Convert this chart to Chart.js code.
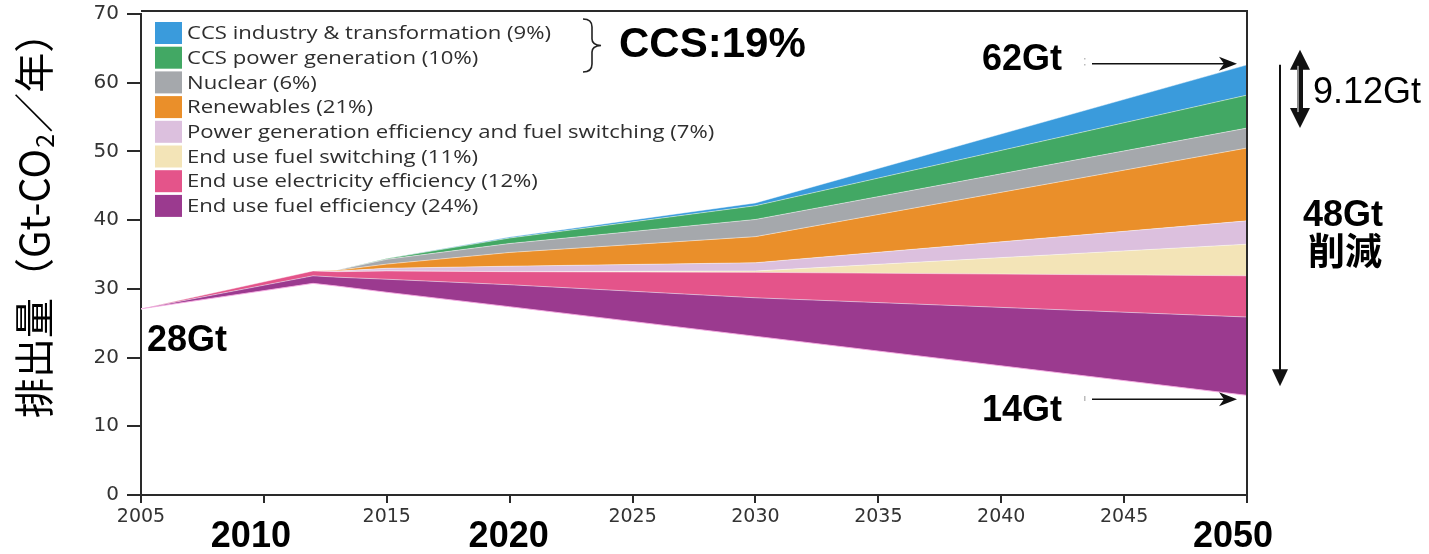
<!DOCTYPE html>
<html>
<head>
<meta charset="utf-8">
<script src="https://cdn.jsdelivr.net/npm/chart.js@4.4.1/dist/chart.umd.min.js"></script>
<style>
  html, body { margin: 0; padding: 0; background: #fff; }
  canvas { display: block; }
</style>
</head>
<body>
<canvas id="emissionChart" width="1429" height="554"></canvas>
<script>
// Scenario years (x) and emissions in Gt-CO2 per year
const years = [2005, 2012, 2013, 2015, 2020, 2030, 2050];

// Emissions left after all measures (bottom, unfilled)
const remaining   = [27.1, 30.8, 30.4, 29.5, 27.4, 23.1, 14.5];

// Reduction wedges, stacked from the bottom up
const fuelEff     = [0, 1.1, 1.3, 1.9, 3.2, 5.6, 11.4];
const elecEff     = [0, 0.7, 0.8, 1.2, 1.9, 3.7, 6.0];
const fuelSwitch  = [0, 0, 0, 0, 0, 0.2, 4.6];
const powerEff    = [0, 0, 0.1, 0.4, 0.8, 1.2, 3.4];
const renewables  = [0, 0, 0.1, 0.6, 2.0, 3.8, 10.6];
const nuclear     = [0, 0, 0.05, 0.7, 1.3, 2.5, 2.9];
const ccsPower    = [0, 0, 0, 0.1, 0.8, 2.0, 4.8];
const ccsIndustry = [0, 0, 0, 0, 0.15, 0.4, 4.4];

const wedgeLabels = [
    'End use fuel efficiency (24%)',
    'End use electricity efficiency (12%)',
    'End use fuel switching (11%)',
    'Power generation efficiency and fuel switching (7%)',
    'Renewables (21%)',
    'Nuclear (6%)',
    'CCS power generation (10%)',
    'CCS industry & transformation (9%)'
];
const wedgeData = [fuelEff, elecEff, fuelSwitch, powerEff, renewables, nuclear, ccsPower, ccsIndustry];
const wedgeColors = [
    'rgb(155, 58, 143)',   // purple
    'rgb(228, 84, 138)',   // pink
    'rgb(243, 228, 183)',  // beige
    'rgb(220, 192, 222)',  // lavender
    'rgb(234, 143, 42)',   // orange
    'rgb(165, 168, 172)',  // grey
    'rgb(66, 168, 100)',   // green
    'rgb(58, 155, 220)'    // blue
];

const yTickValues = [0, 10, 20, 30, 40, 50, 60, 70];
const boldYears = ['2010', '2020', '2050'];

const toPoints = arr => arr.map((v, i) => ({ x: years[i], y: v }));
const last = arr => arr[arr.length - 1];

const top2050 = last(remaining) + wedgeData.reduce((s, a) => s + last(a), 0);
const nuclearTop2050 = last(remaining) + wedgeData.slice(0, 6).reduce((s, a) => s + last(a), 0);

function drawText(ctx, s, x, y, font, align, sx) {
    ctx.save();
    ctx.font = font;
    ctx.textAlign = align;
    ctx.textBaseline = 'middle';
    ctx.translate(x, y);
    ctx.scale(sx || 1, 1);
    ctx.fillText(s, 0, 0);
    ctx.restore();
}

function arrowRight(ctx, x1, x2, y) {
    ctx.beginPath();
    ctx.moveTo(x1, y);
    ctx.lineTo(x2 - 10, y);
    ctx.stroke();
    ctx.beginPath();
    ctx.moveTo(x2, y);
    ctx.lineTo(x2 - 18, y - 7);
    ctx.lineTo(x2 - 13, y);
    ctx.lineTo(x2 - 18, y + 7);
    ctx.closePath();
    ctx.fill();
}

// Legend, frame and call-outs drawn over the chart
const annotate = {
    id: 'annotate',
    afterDraw(chart) {
        const { ctx, chartArea: a, scales: { x, y } } = chart;
        ctx.save();

        // top and right frame
        ctx.strokeStyle = '#2a2a2a';
        ctx.lineWidth = 2;
        ctx.beginPath();
        ctx.moveTo(a.left, a.top - 3);
        ctx.lineTo(a.right, a.top - 3);
        ctx.lineTo(a.right, a.bottom);
        ctx.stroke();

        // legend, top entry first
        const legendFont = '18.5px "Open Sans"';
        ctx.font = legendFont;
        const sx = 364 / ctx.measureText(wedgeLabels[7]).width;
        for (let i = 0; i < 8; i++) {
            const k = 7 - i;
            const cy = 33 + i * 24.7;
            ctx.fillStyle = wedgeColors[k];
            ctx.fillRect(155, cy - 11, 27, 22);
            ctx.fillStyle = '#2e2e2e';
            drawText(ctx, wedgeLabels[k], 187, cy + 1, legendFont, 'left', sx);
        }

        // brace grouping the two CCS entries
        ctx.strokeStyle = '#222';
        ctx.lineWidth = 1.6;
        ctx.beginPath();
        ctx.moveTo(583, 19);
        ctx.quadraticCurveTo(592, 19, 592, 27);
        ctx.lineTo(592, 39);
        ctx.quadraticCurveTo(592, 45, 601, 45.5);
        ctx.quadraticCurveTo(592, 46, 592, 52);
        ctx.lineTo(592, 64);
        ctx.quadraticCurveTo(592, 72, 583, 72);
        ctx.stroke();

        ctx.fillStyle = '#000';
        drawText(ctx, 'CCS:19%', 619, 45, 'bold 42px "Liberation Sans"', 'left');

        // y axis title with subscript
        ctx.save();
        ctx.translate(34, 418);
        ctx.rotate(-Math.PI / 2);
        ctx.textBaseline = 'middle';
        ctx.textAlign = 'left';
        ctx.fillStyle = '#000';
        const big = '40px "Noto Sans CJK JP"';
        const small = '25px "Noto Sans CJK JP"';
        let pos = 0;
        ctx.font = big;
        ctx.fillText('排出量（Gt-CO', pos, 0);
        pos += ctx.measureText('排出量（Gt-CO').width;
        ctx.font = small;
        ctx.fillText('2', pos + 1, 10);
        pos += ctx.measureText('2').width + 2;
        ctx.font = big;
        ctx.fillText('／年）', pos, 0);
        ctx.restore();

        // bold year labels under the axis
        ctx.fillStyle = '#000';
        const boldFont = 'bold 36px "Liberation Sans"';
        drawText(ctx, '2010', x.getPixelForValue(2010) - 13, 537, boldFont, 'center');
        drawText(ctx, '2020', x.getPixelForValue(2020) - 1, 537, boldFont, 'center');
        drawText(ctx, '2050', x.getPixelForValue(2050) - 14, 537, boldFont, 'center');

        // value call-outs
        drawText(ctx, '28Gt', 187, 341, boldFont, 'center');
        drawText(ctx, '62Gt', 1022, 60, boldFont, 'center');
        drawText(ctx, '14Gt', 1022, 411, boldFont, 'center');
        drawText(ctx, '48Gt', 1343, 216, boldFont, 'center');
        drawText(ctx, '削減', 1345, 251, 'bold 37px "Noto Sans CJK JP"', 'center');
        drawText(ctx, '9.12Gt', 1313, 93, '36px "Liberation Sans"', 'left');

        // faint marks left of the arrows
        ctx.fillStyle = '#bbb';
        ctx.fillRect(1084, 58, 1.5, 1.5);
        ctx.fillRect(1084, 64, 1.5, 1.5);
        ctx.fillRect(1084, 396, 1.5, 5);

        ctx.strokeStyle = '#111';
        ctx.fillStyle = '#111';
        ctx.lineWidth = 1.5;
        const xEnd = x.getPixelForValue(2050) - 10;
        arrowRight(ctx, 1092, xEnd, y.getPixelForValue(top2050) - 1);
        arrowRight(ctx, 1092, xEnd, y.getPixelForValue(last(remaining)) + 4);

        // total reduction arrow
        const vx = a.right + 33;
        const vTop = y.getPixelForValue(top2050);
        const vTip = y.getPixelForValue(last(remaining)) - 9;
        ctx.lineWidth = 2;
        ctx.beginPath();
        ctx.moveTo(vx, vTop);
        ctx.lineTo(vx, vTip - 10);
        ctx.stroke();
        ctx.beginPath();
        ctx.moveTo(vx, vTip);
        ctx.lineTo(vx - 8, vTip - 17);
        ctx.lineTo(vx + 8, vTip - 17);
        ctx.closePath();
        ctx.fill();

        // double arrow for the CCS share
        const dx = a.right + 53;
        const dTop = y.getPixelForValue(top2050) - 15;
        const dBot = y.getPixelForValue(nuclearTop2050);
        ctx.fillStyle = '#111';
        ctx.fillRect(dx - 3, dTop + 14, 6, dBot - dTop - 28);
        ctx.beginPath();
        ctx.moveTo(dx, dTop);
        ctx.lineTo(dx - 10, dTop + 20);
        ctx.lineTo(dx + 10, dTop + 20);
        ctx.closePath();
        ctx.fill();
        ctx.beginPath();
        ctx.moveTo(dx, dBot);
        ctx.lineTo(dx - 10, dBot - 20);
        ctx.lineTo(dx + 10, dBot - 20);
        ctx.closePath();
        ctx.fill();
        ctx.fillStyle = '#8a8a8a';
        ctx.fillRect(dx - 3, dTop + 16, 2, dBot - dTop - 32);

        ctx.restore();
    }
};

const datasets = [{
    label: 'Remaining emissions',
    data: toPoints(remaining),
    borderColor: 'rgba(245, 170, 225, 0.9)',
    borderWidth: 1,
    fill: false,
    pointRadius: 0
}].concat(wedgeData.map((arr, i) => ({
    label: wedgeLabels[i],
    data: toPoints(arr),
    backgroundColor: wedgeColors[i],
    borderColor: 'rgba(255, 255, 255, 0.45)',
    borderWidth: 1,
    fill: '-1',
    pointRadius: 0
})));

new Chart(document.getElementById('emissionChart').getContext('2d'), {
    type: 'line',
    data: { datasets },
    options: {
        responsive: false,
        animation: false,
        devicePixelRatio: 1,
        layout: { padding: { left: 0, right: 182, top: 14, bottom: 0 } },
        elements: { line: { tension: 0 } },
        plugins: {
            legend: { display: false },
            tooltip: { enabled: false }
        },
        scales: {
            x: {
                type: 'linear',
                min: 2005,
                max: 2050,
                afterFit: scale => { scale.height = 59; },
                ticks: {
                    stepSize: 5,
                    color: '#333',
                    font: { family: 'DejaVu Sans', size: 19 },
                    padding: 3,
                    maxRotation: 0,
                    callback: v => boldYears.includes(String(v)) ? '' : String(v)
                },
                grid: { drawOnChartArea: false, drawTicks: true, tickLength: 8, color: '#2a2a2a', lineWidth: 2 },
                border: { display: true, color: '#2a2a2a', width: 2 }
            },
            y: {
                stacked: true,
                min: 0,
                max: 70,
                afterFit: scale => { scale.width = 141; scale.paddingTop = 0; scale.paddingBottom = 0; },
                afterBuildTicks: scale => { scale.ticks = yTickValues.map(v => ({ value: v })); },
                ticks: {
                    color: '#333',
                    font: { family: 'DejaVu Sans', size: 20 },
                    padding: 8,
                    callback: v => String(v)
                },
                grid: { drawOnChartArea: false, drawTicks: true, tickLength: 14, color: '#2a2a2a', lineWidth: 2 },
                border: { display: true, color: '#2a2a2a', width: 2 }
            }
        }
    },
    plugins: [annotate]
});
</script>
</body>
</html>
